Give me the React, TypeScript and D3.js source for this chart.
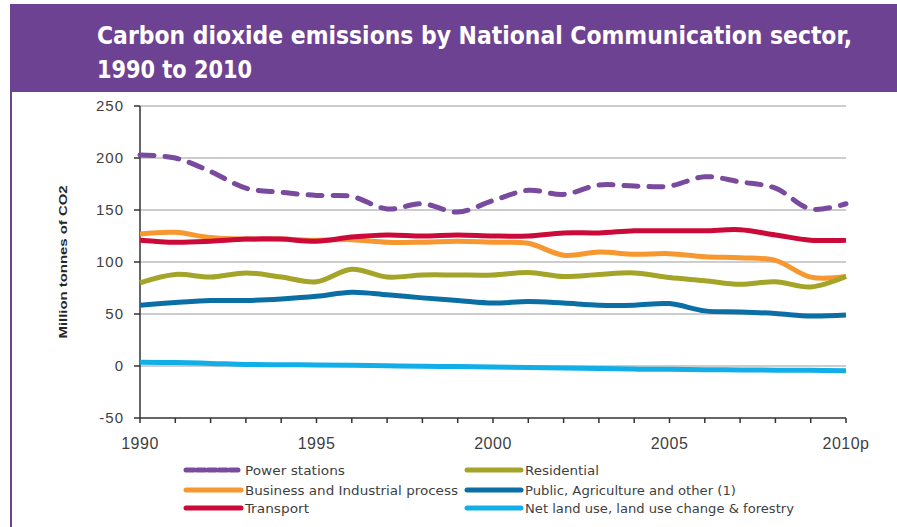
import React from 'react';
import * as d3 from 'd3';

const years = [1990, 1991, 1992, 1993, 1994, 1995, 1996, 1997, 1998, 1999, 2000, 2001, 2002, 2003, 2004, 2005, 2006, 2007, 2008, 2009, 2010];
const power = [203, 200, 187, 171, 167, 164, 163, 151, 156, 148, 159, 169, 165, 174, 173, 173, 182, 177, 171, 151, 156];
const business = [127, 128.5, 123.5, 122, 122, 121, 121.5, 119, 119, 120, 119, 118, 106.5, 109.5, 107.5, 108, 105, 104, 101.5, 85.5, 86];
const transport = [121, 119, 120, 122, 122, 120, 124, 126, 125, 126, 125, 125, 128, 128, 130, 130, 130, 131, 126, 121, 121];
const residential = [80, 88, 85.5, 89.5, 85.5, 81, 93, 85.5, 87.5, 87.5, 87.5, 90, 86, 88, 89.5, 85, 82, 78.5, 81, 76, 86];
const publicAg = [58.5, 61, 63, 63, 64.5, 67, 71, 68.5, 65.5, 63, 60.5, 62, 60.5, 58.5, 58.5, 60, 53, 52, 50.5, 48, 49];
const netLand = [3.5, 3.3, 2.5, 1.5, 1.2, 1, 0.8, 0.3, -0.3, -0.5, -1, -1.5, -2, -2.5, -3, -3.2, -3.5, -3.8, -4, -4.2, -4.5];

const yTicks = [-50, 0, 50, 100, 150, 200, 250];
const xLabels: [number, string][] = [[1990, '1990'], [1995, '1995'], [2000, '2000'], [2005, '2005'], [2010, '2010p']];

const titleLines = ['Carbon dioxide emissions by National Communication sector,', '1990 to 2010'];
const yTitle = 'Million tonnes of CO2';

const series = [
  { name: 'Power stations', values: power, color: '#7A4A9E', dashed: true, col: 0, row: 0, tw: 100 },
  { name: 'Business and Industrial process', values: business, color: '#F7972F', dashed: false, col: 0, row: 1, tw: 213 },
  { name: 'Transport', values: transport, color: '#CC0A3A', dashed: false, col: 0, row: 2, tw: 64 },
  { name: 'Residential', values: residential, color: '#A4A429', dashed: false, col: 1, row: 0, tw: 74 },
  { name: 'Public, Agriculture and other (1)', values: publicAg, color: '#0B6FA6', dashed: false, col: 1, row: 1, tw: 211 },
  { name: 'Net land use, land use change & forestry', values: netLand, color: '#12AEE8', dashed: false, col: 1, row: 2, tw: 269 },
];

const PURPLE = '#6E4292';
const TXT = '#3F3F3F';
const condensed = '"DejaVu Sans Condensed", "Liberation Sans Narrow", Roboto, "DejaVu Sans", sans-serif';

export default function App() {
  const x = d3.scaleLinear().domain([1990, 2010]).range([140, 846]);
  const y = d3.scaleLinear().domain([-50, 250]).range([418, 106]);
  const line = d3
    .line<number>()
    .x((_, i) => x(years[i]))
    .y((d) => y(d))
    .curve(d3.curveCatmullRom.alpha(0.5));

  const legCols = [
    { sx0: 186, sx1: 241, tx: 245 },
    { sx0: 467, sx1: 521, tx: 525 },
  ];
  const legRows = [470, 490, 508];

  return (
    <svg
      width={897}
      height={527}
      style={{ position: 'absolute', left: 0, top: 0, display: 'block', background: '#fff' }}
    >
      <rect x={10} y={4} width={900} height={88} fill={PURPLE} />
      <line x1={11} x2={11} y1={4} y2={527} stroke={PURPLE} strokeWidth={2} />
      {titleLines.map((t, i) => (
        <text
          key={i}
          x={97}
          y={44 + i * 34}
          fill="#fff"
          fontFamily={condensed}
          fontWeight="bold"
          fontSize={24}
          textLength={i === 0 ? 755 : 155}
          lengthAdjust="spacingAndGlyphs"
        >
          {t}
        </text>
      ))}

      {/* gridlines */}
      {yTicks
        .filter((v) => v > -50)
        .map((v) => (
          <line key={v} x1={x(1990)} x2={x(2010)} y1={y(v)} y2={y(v)} stroke="#BDBDBD" strokeWidth={1.5} />
        ))}

      {/* y axis */}
      <line x1={x(1990)} x2={x(1990)} y1={y(250)} y2={y(-50)} stroke="#333" strokeWidth={1.5} />
      {yTicks.map((v) => (
        <g key={v}>
          <line x1={x(1990) - 6} x2={x(1990)} y1={y(v)} y2={y(v)} stroke="#333" strokeWidth={1.5} />
          <text
            x={124}
            y={y(v)}
            dy="0.35em"
            textAnchor="end"
            fontFamily='"Liberation Sans", Arial, sans-serif'
            fontSize={15}
            letterSpacing={1}
            fill={TXT}
          >
            {v}
          </text>
        </g>
      ))}
      <text
        transform={`translate(67,262) rotate(-90)`}
        textAnchor="middle"
        fontFamily='"Liberation Sans", Arial, sans-serif'
        fontWeight="bold"
        fontSize={11}
        fill="#262626"
        textLength={153}
        lengthAdjust="spacingAndGlyphs"
      >
        {yTitle}
      </text>

      {/* x axis */}
      <line x1={x(1990)} x2={x(2010)} y1={y(-50)} y2={y(-50)} stroke="#333" strokeWidth={1.5} />
      {years.map((yr) => (
        <line key={yr} x1={x(yr)} x2={x(yr)} y1={y(-50)} y2={y(-50) + 5} stroke="#333" strokeWidth={1.5} />
      ))}
      {xLabels.map(([yr, lab]) => (
        <text
          key={yr}
          x={x(yr)}
          y={449}
          textAnchor="middle"
          fontFamily='"Liberation Sans", Arial, sans-serif'
          fontSize={16}
          letterSpacing={0.5}
          fill={TXT}
        >
          {lab}
        </text>
      ))}

      {/* series */}
      {series.map((s) => (
        <path
          key={s.name}
          d={line(s.values) || ''}
          fill="none"
          stroke={s.color}
          strokeWidth={5}
          strokeLinecap={s.dashed ? 'round' : 'butt'}
          strokeLinejoin="round"
          strokeDasharray={s.dashed ? '14 11' : undefined}
        />
      ))}

      {/* legend */}
      {series.map((s) => {
        const c = legCols[s.col];
        const ry = legRows[s.row];
        return (
          <g key={s.name}>
            <line
              x1={c.sx0}
              x2={c.sx1}
              y1={ry}
              y2={ry}
              stroke={s.color}
              strokeWidth={5}
              strokeLinecap="round"
              strokeDasharray={s.dashed ? '8 3' : undefined}
            />
            <text
              x={c.tx}
              y={ry}
              dy="0.35em"
              fontFamily={condensed}
              fontSize={13}
              fill={TXT}
              textLength={s.tw}
              lengthAdjust="spacingAndGlyphs"
            >
              {s.name}
            </text>
          </g>
        );
      })}
    </svg>
  );
}
